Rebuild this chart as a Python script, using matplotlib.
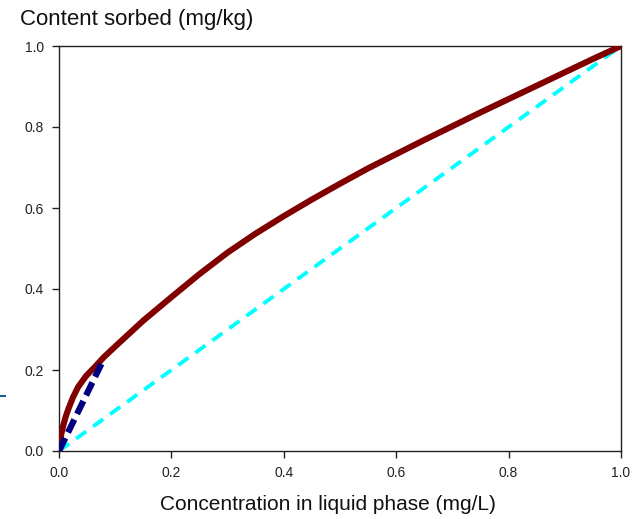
import matplotlib
matplotlib.use("Agg")
from matplotlib import pyplot as plt
from matplotlib.lines import Line2D
from matplotlib.ticker import FormatStrFormatter

plt.rcParams['font.family'] = ['Liberation Sans', 'DejaVu Sans']

# sorption isotherm
conc = [0, 0.003, 0.008, 0.012, 0.017, 0.025, 0.034, 0.048, 0.064, 0.08, 0.1, 0.125, 0.15,
        0.2, 0.25, 0.3, 0.35, 0.4, 0.45, 0.5, 0.55, 0.6, 0.65, 0.7, 0.75, 0.8, 0.85, 0.9,
        0.95, 1.0]
sorbed = [0, 0.035, 0.065, 0.085, 0.105, 0.133, 0.158, 0.185, 0.208, 0.232, 0.258, 0.29,
          0.322, 0.38, 0.437, 0.49, 0.537, 0.58, 0.621, 0.66, 0.698, 0.733, 0.768, 0.802,
          0.836, 0.869, 0.902, 0.935, 0.968, 1.0]

# linear reference line
lin_x = [0, 1.0]
lin_y = [0, 1.0]

# initial slope line
init_x = [0, 0.08]
init_y = [0, 0.228]

fig = plt.figure(figsize=(6.44, 5.19), dpi=100)
ax = fig.add_axes([59 / 644, 1 - 451 / 519, 562 / 644, 405 / 519])

ax.plot(lin_x, lin_y, color='#00ffff', lw=2.8, ls=(0, (3.2, 2.2)), zorder=2)
ax.plot(conc, sorbed, color='#800000', lw=4.4, solid_capstyle='round',
        solid_joinstyle='round', zorder=3)
ax.plot(init_x, init_y, color='#000080', lw=4.5, ls=(0, (2.3, 1.0)), zorder=4)

ax.set_xlim(0, 1.0)
ax.set_ylim(0, 1.0)
ax.set_xticks([0, 0.2, 0.4, 0.6, 0.8, 1.0])
ax.set_yticks([0, 0.2, 0.4, 0.6, 0.8, 1.0])
ax.xaxis.set_major_formatter(FormatStrFormatter('%.1f'))
ax.yaxis.set_major_formatter(FormatStrFormatter('%.1f'))
ax.tick_params(direction='out', length=5, width=1, labelsize=10, colors='#222222', pad=6)
for s in ax.spines.values():
    s.set_linewidth(1)
    s.set_color('#222222')

fig.text(20 / 644, 1 - 19 / 519, 'Content sorbed (mg/kg)', fontsize=16, va='center', ha='left', color='#111111')
fig.text(328 / 644, 1 - 505 / 519, 'Concentration in liquid phase (mg/L)', fontsize=15, va='center', ha='center', color='#111111')

# small stray mark at left edge
fig.add_artist(Line2D([0, 5 / 644], [1 - 396 / 519, 1 - 396 / 519], color='#1a5f8a', lw=1.5))

fig.savefig('out.png', dpi=100)
